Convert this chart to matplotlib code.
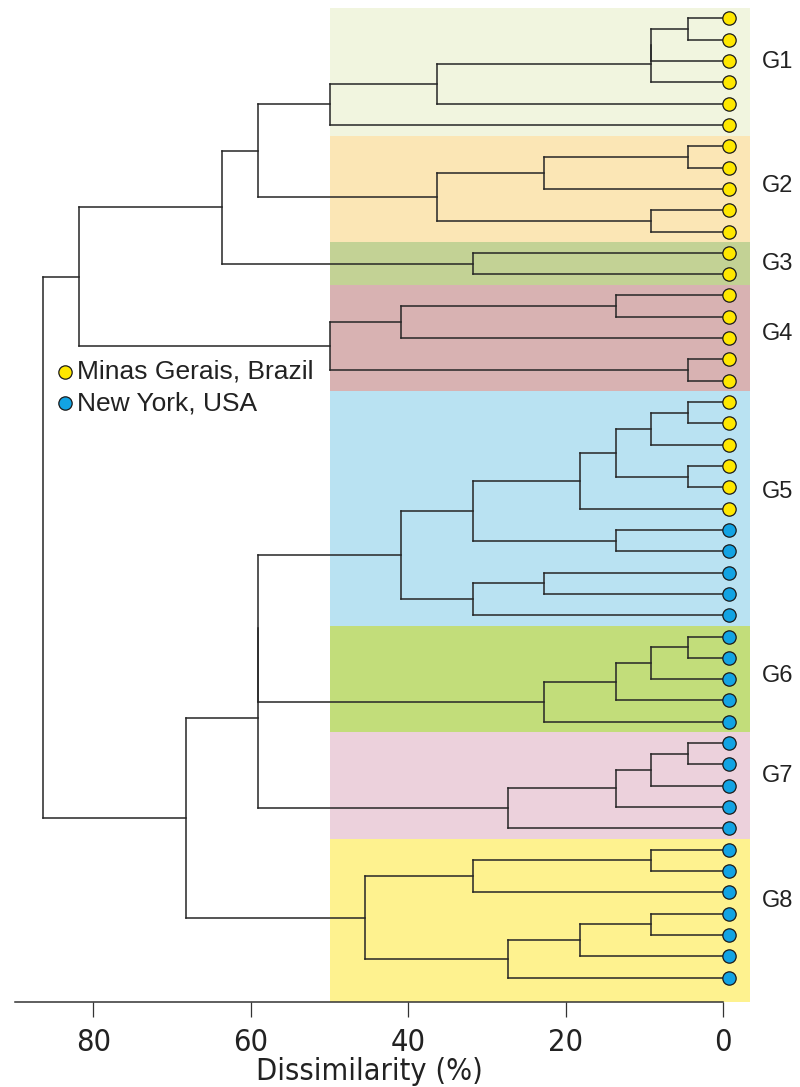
import matplotlib.pyplot as plt
from matplotlib.patches import Rectangle
from matplotlib import font_manager as fm

plt.rcParams['font.family'] = ['Liberation Sans', 'DejaVu Sans']


def narrow_font():
    # a condensed sans for the axis numbers, if one is installed
    found = []
    for f in fm.fontManager.ttflist:
        st = str(f.stretch).lower()
        cond = ('narrow' in f.name.lower() or 'condensed' in f.name.lower()
                or 'condensed' in st or st in ('500', '400', '300'))
        if not cond or f.style != 'normal':
            continue
        if str(f.weight) not in ('400', 'normal', 'regular', 'book'):
            continue
        rank = 0 if 'Liberation' in f.name else 1 if 'DejaVu' in f.name else 2
        found.append((rank, f.fname))
    return sorted(found)[0][1] if found else None


nf = narrow_font()

# groups, how many leaves each holds and where the leaves come from
groups = ['G1', 'G2', 'G3', 'G4', 'G5', 'G6', 'G7', 'G8']
group_minas = [6, 5, 2, 5, 6, 0, 0, 0]
group_ny = [0, 0, 0, 0, 5, 5, 5, 7]
band_colors = ['#F1F5DF', '#FBE6B5', '#C3D295', '#D8B2B2',
               '#B9E2F2', '#C2DD7A', '#ECD1DC', '#FEF28F']

# clusters as (height, child, child); ints are leaf rows
g1 = (50.0, (36.4, (9.1, (9.1, (4.5, 0, 1), 2), 3), 4), 5)
g2 = (36.4, (22.7, (4.5, 6, 7), 8), (9.1, 9, 10))
g3 = (31.8, 11, 12)
g4 = (50.0, (40.9, (13.6, 13, 14), 15), (4.5, 16, 17))
g5 = (40.9,
      (31.8, (18.2, (13.6, (9.1, (4.5, 18, 19), 20), (4.5, 21, 22)), 23),
       (13.6, 24, 25)),
      (31.8, (22.7, 26, 27), 28))
g6 = (22.7, (13.6, (9.1, (4.5, 29, 30), 31), 32), 33)
g7 = (27.3, (13.6, (9.1, (4.5, 34, 35), 36), 37), 38)
g8 = (45.5, (31.8, (9.1, 39, 40), 41), (27.3, (18.2, (9.1, 42, 43), 44), 45))
tree = (86.4,
        (81.8, (63.6, (59.1, g1, g2), g3), g4),
        (68.2, (59.1, (59.1, g5, g6), g7), g8))

origins = ['Minas Gerais, Brazil', 'New York, USA']
origin_colors = ['#FFE800', '#12A3E3']
xticks = [80, 60, 40, 20, 0]

# layout
band_left = 50.0
x_right = -3.42
label_rows = [2.05, 7.85, 11.5, 14.8, 22.2, 30.85, 35.55, 41.4]
line_kw = dict(color='#262626', lw=1.1, solid_capstyle='projecting')

fig = plt.figure(figsize=(8, 10.87), dpi=100)
ax = fig.add_axes([0.0184, 0.0785, 0.919, 0.9144])
ax.set_xlim(90, x_right)
ax.set_ylim(46.13, -0.5)

# coloured group bands
start = 0
for i, g in enumerate(groups):
    n = group_minas[i] + group_ny[i]
    top = start - 0.5
    bottom = start + n - 0.5 if i < len(groups) - 1 else 46.13
    ax.add_patch(Rectangle((x_right, top), band_left - x_right, bottom - top,
                           facecolor=band_colors[i], edgecolor='none', zorder=0))
    ax.text(-4.9, label_rows[i], g, fontsize=17, va='center', ha='left',
            color='#222222', clip_on=False)
    start += n


def draw(node):
    if isinstance(node, int):
        return 0.0, float(node)
    h, *kids = node
    pts = [draw(k) for k in kids]
    ys = [y for _, y in pts]
    for ch, cy in pts:
        ax.plot([h, ch], [cy, cy], **line_kw, zorder=2)
    ax.plot([h, h], [min(ys), max(ys)], **line_kw, zorder=2)
    return h, (min(ys) + max(ys)) / 2


draw(tree)

# leaf dots
rows = 0
for i in range(len(groups)):
    for k, cnt in enumerate([group_minas[i], group_ny[i]]):
        ys = list(range(rows, rows + cnt))
        ax.plot([-0.78] * cnt, ys, 'o', ms=9.6, mfc=origin_colors[k],
                mec='#1a1a1a', mew=0.9, zorder=3, clip_on=False)
        rows += cnt

# legend
for k, lab in enumerate(origins):
    yf = 1 - (372 + 31 * k) / 1087
    fig.lines.append(plt.Line2D([65 / 800], [yf], marker='o', ms=9.6,
                                mfc=origin_colors[k], mec='#1a1a1a', mew=0.9,
                                transform=fig.transFigure))
    fig.text(77 / 800, yf, lab, fontsize=19, va='center', ha='left',
             color='#222222')

for s in ['top', 'right', 'left']:
    ax.spines[s].set_visible(False)
ax.spines['bottom'].set_bounds(0, 90)
ax.spines['bottom'].set_linewidth(1.1)
ax.spines['bottom'].set_color('#333333')
ax.set_yticks([])
ax.set_xticks(xticks)
ax.set_xticklabels([str(t) for t in xticks], color='#222222')
ax.tick_params(axis='x', length=11, width=0.9, pad=8, color='#333333')
ax.set_xlabel('Dissimilarity (%)', color='#222222', labelpad=0)
ax.xaxis.label.set_x(0.483)

if nf:
    tick_fp = fm.FontProperties(fname=nf, size=22)
    label_fp = fm.FontProperties(fname=nf, size=22)
else:
    tick_fp = fm.FontProperties(family='DejaVu Sans', size=19)
    label_fp = fm.FontProperties(family='DejaVu Sans', size=19)
for t in ax.get_xticklabels():
    t.set_fontproperties(tick_fp)
ax.xaxis.label.set_fontproperties(label_fp)

fig.savefig('out.png', dpi=100)
